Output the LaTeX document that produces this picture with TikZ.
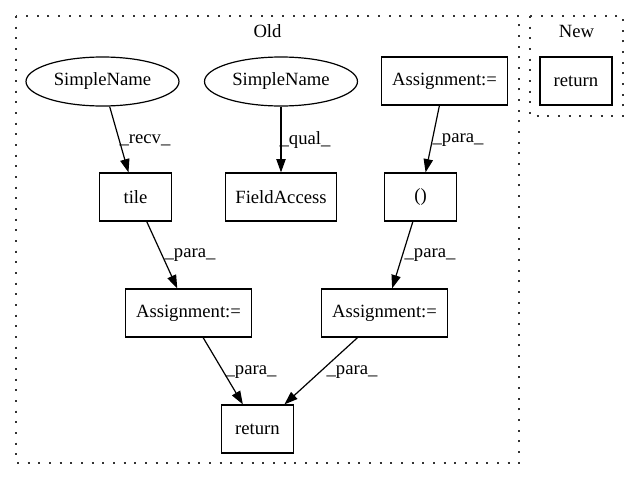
\documentclass[tikz,border=0pt]{standalone}
\usepackage{fontspec}
\setmainfont{Liberation Serif}
\usetikzlibrary{arrows.meta,shapes.geometric}
\begin{document}
\begin{tikzpicture}[x=0.75bp,y=-0.75bp,
  every node/.style={font=\fontsize{14bp}{16bp}\selectfont, inner sep=0pt},
  box/.style={draw, rectangle, minimum height=36bp, line width=0.9bp},
  oval/.style={draw, ellipse, minimum height=36.75bp, minimum width=114.75bp, line width=0.9bp},
  conn/.style={-{Triangle[length=10bp,width=7bp]}, line width=0.9bp},
  cluster/.style={draw=black!80, dash pattern=on 1.4bp off 6.6bp, line width=1.4bp}]
\useasboundingbox (0,0) rectangle (640,480);
% clusters
\draw[cluster] (16,16) rectangle (519,463);
\node (oldlbl) at (267.5,31) {Old};
\draw[cluster] (530,16) rectangle (623,116);
\node (newlbl) at (576.5,31) {New};
% nodes
\node[oval] (sn1) at (102.5,81.5) {SimpleName};
\node[oval] (sn2) at (281,81.5) {SimpleName};
\node[box, minimum width=94bp] (asgT) at (444.5,81) {Assignment:=};
\node[box, minimum width=54bp] (retN) at (576,81) {return};
\node[box, minimum width=54bp] (tile) at (135.5,197) {tile};
\node[box, minimum width=83bp] (fa) at (281,197) {FieldAccess};
\node[box, minimum width=54bp] (par) at (420.5,197) {()};
\node[box, minimum width=94bp] (asgL) at (188.5,313) {Assignment:=};
\node[box, minimum width=94bp] (asgR) at (384.5,313) {Assignment:=};
\node[box, minimum width=54bp] (ret) at (257.5,429) {return};
% connectors
\draw[conn] (sn1) -- (tile);
\draw[conn] (sn2) -- (fa);
\draw[conn] (asgT) -- (par);
\draw[conn] (tile) -- (asgL);
\draw[conn] (par) -- (asgR);
\draw[conn] (asgL) -- (ret);
\draw[conn] (asgR) -- (ret);
% labels
\node (l1) at (145,140) {\_recv\_};
\node (l2) at (305,140) {\_qual\_};
\node (l3) at (458,140) {\_para\_};
\node (l4) at (190,255) {\_para\_};
\node (l5) at (430,255) {\_para\_};
\node (l6) at (251,372) {\_para\_};
\node (l7) at (352,372) {\_para\_};
\end{tikzpicture}
\end{document}
